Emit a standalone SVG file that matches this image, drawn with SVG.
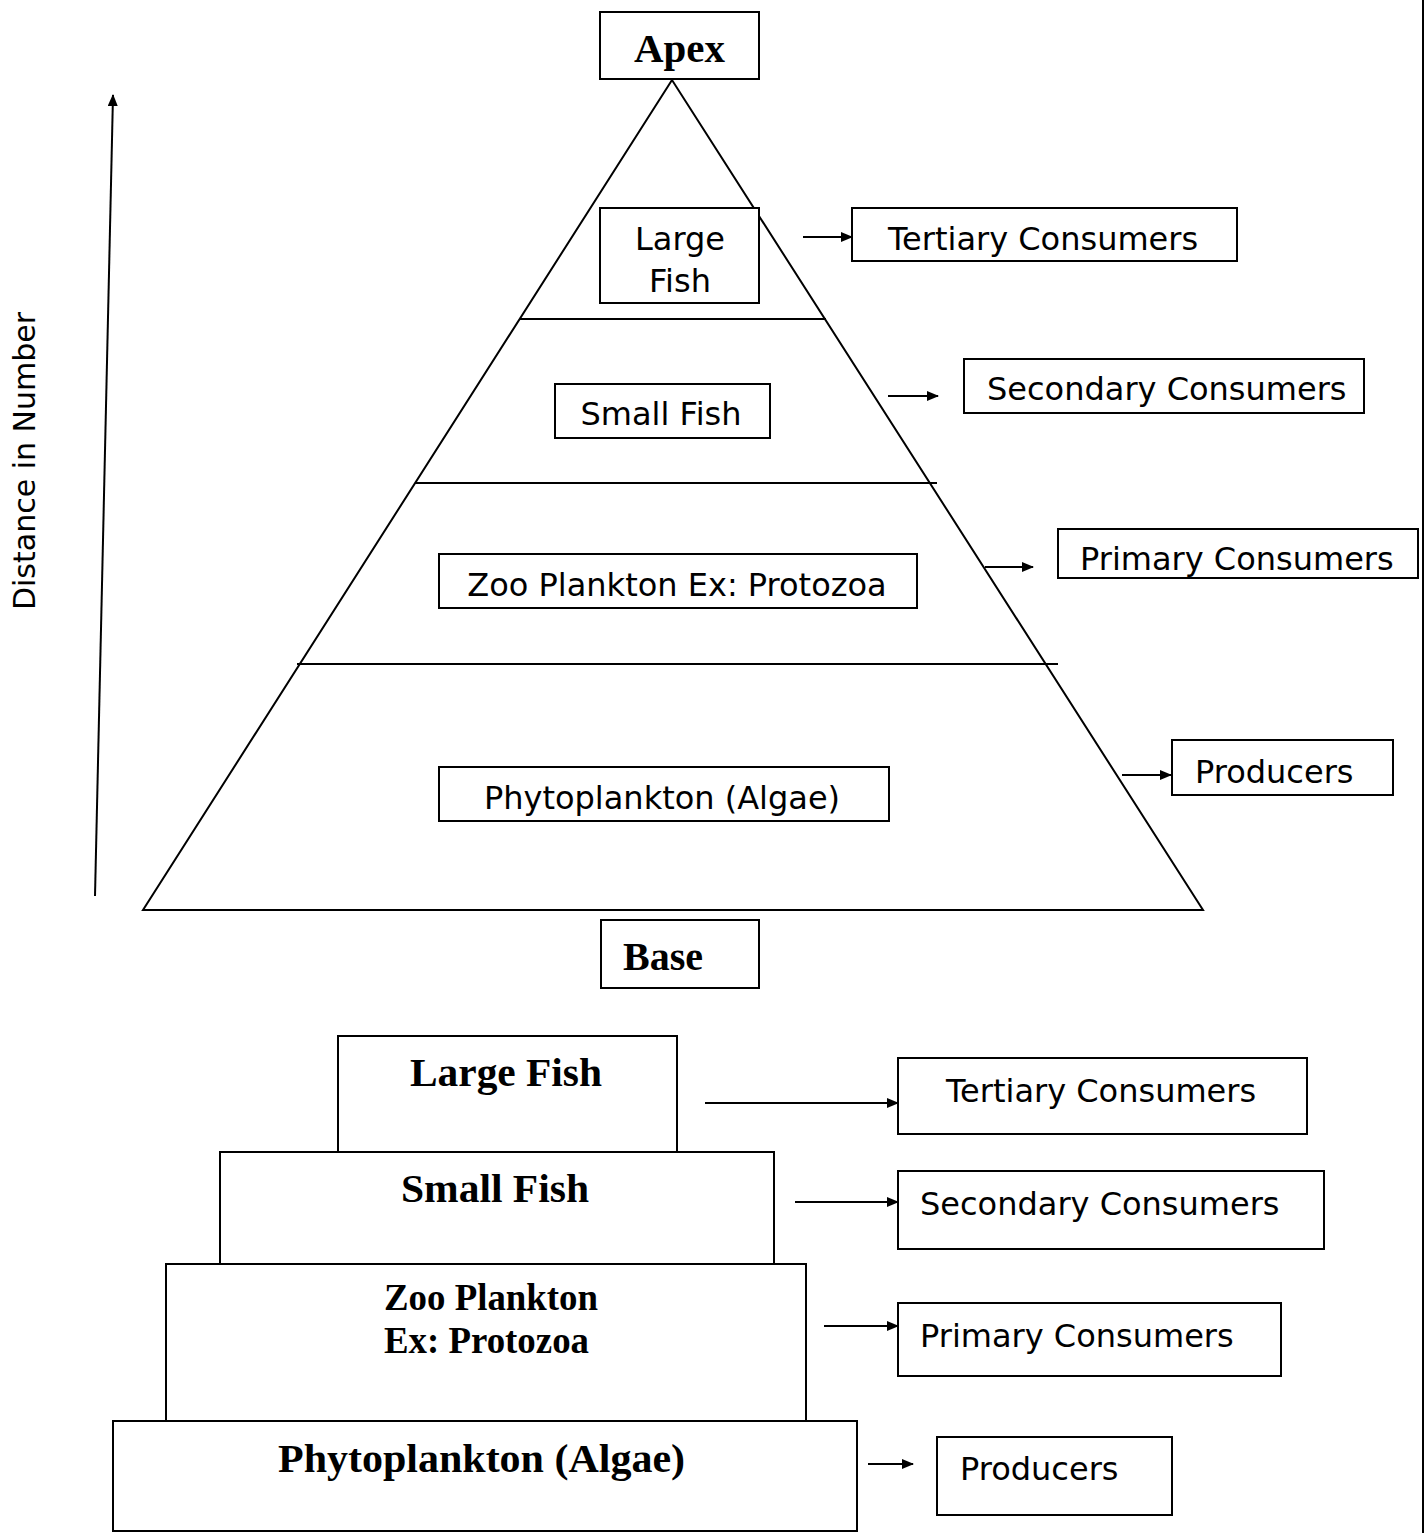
<svg xmlns="http://www.w3.org/2000/svg" width="1426" height="1533" viewBox="0 0 1426 1533">
<defs>
<marker id="ah" markerUnits="userSpaceOnUse" markerWidth="12" markerHeight="10" refX="11" refY="5" orient="auto">
<path d="M0,0 L12,5 L0,10 Z" fill="#000"/>
</marker>
</defs>
<style>
.box{fill:#fff;stroke:#000;stroke-width:2}
.ln{fill:none;stroke:#000;stroke-width:2}
.ar{fill:none;stroke:#000;stroke-width:2;marker-end:url(#ah)}
.s{font-family:"DejaVu Sans","Verdana",sans-serif;font-size:32px;fill:#000}
.b{font-family:"Liberation Serif","Times New Roman",serif;font-weight:bold;font-size:40px;fill:#000}
</style>
<rect width="1426" height="1533" fill="#fff"/>
<line class="ln" x1="1423" y1="0" x2="1423" y2="1533"/>

<g id="pyramid">
<polygon class="ln" points="672,80 143,910 1203,910"/>
<line class="ln" x1="520" y1="319" x2="826" y2="319"/>
<line class="ln" x1="415" y1="483" x2="937" y2="483"/>
<line class="ln" x1="297" y1="664" x2="1058" y2="664"/>
</g>

<g id="apex"><rect class="box" x="600" y="12" width="159" height="67"/><text class="b" x="634" y="62" textLength="91" lengthAdjust="spacingAndGlyphs">Apex</text></g>
<g id="base"><rect class="box" x="601" y="920" width="158" height="68"/><text class="b" x="623" y="970" textLength="80" lengthAdjust="spacingAndGlyphs">Base</text></g>

<g id="axis-label"><text class="s" transform="translate(35,461) rotate(-90)" text-anchor="middle" style="font-size:30px">Distance in Number</text></g>

<g id="t-large"><rect class="box" x="600" y="208" width="159" height="95"/><text class="s" x="680" y="250" text-anchor="middle">Large</text><text class="s" x="680" y="292" text-anchor="middle">Fish</text></g>
<g id="t-small"><rect class="box" x="555" y="384" width="215" height="54"/><text class="s" x="661" y="425" text-anchor="middle">Small Fish</text></g>
<g id="t-zoo"><rect class="box" x="439" y="554" width="478" height="54"/><text class="s" x="677" y="596" text-anchor="middle">Zoo Plankton Ex: Protozoa</text></g>
<g id="t-phyto"><rect class="box" x="439" y="767" width="450" height="54"/><text class="s" x="662" y="809" text-anchor="middle">Phytoplankton (Algae)</text></g>

<g id="t-tertiary"><rect class="box" x="852" y="208" width="385" height="53"/><text class="s" x="888" y="250">Tertiary Consumers</text></g>
<g id="t-secondary"><rect class="box" x="964" y="359" width="400" height="54"/><text class="s" x="987" y="400">Secondary Consumers</text></g>
<g id="t-primary"><rect class="box" x="1058" y="529" width="360" height="49"/><text class="s" x="1080" y="570">Primary Consumers</text></g>
<g id="t-producers"><rect class="box" x="1172" y="740" width="221" height="55"/><text class="s" x="1195" y="783">Producers</text></g>

<g id="b-large"><rect class="box" x="338" y="1036" width="339" height="116"/><text class="b" x="410" y="1086" textLength="192" lengthAdjust="spacingAndGlyphs">Large Fish</text></g>
<g id="b-small"><rect class="box" x="220" y="1152" width="554" height="112"/><text class="b" x="401" y="1202" textLength="188" lengthAdjust="spacingAndGlyphs">Small Fish</text></g>
<g id="b-zoo"><rect class="box" x="166" y="1264" width="640" height="157"/><text class="b" x="384" y="1310" style="font-size:37px" textLength="214" lengthAdjust="spacingAndGlyphs">Zoo Plankton</text><text class="b" x="384" y="1353" style="font-size:37px" textLength="205" lengthAdjust="spacingAndGlyphs">Ex: Protozoa</text></g>
<g id="b-phyto"><rect class="box" x="113" y="1421" width="744" height="110"/><text class="b" x="278" y="1472" textLength="407" lengthAdjust="spacingAndGlyphs">Phytoplankton  (Algae)</text></g>

<g id="b-tertiary"><rect class="box" x="898" y="1058" width="409" height="76"/><text class="s" x="946" y="1102">Tertiary Consumers</text></g>
<g id="b-secondary"><rect class="box" x="898" y="1171" width="426" height="78"/><text class="s" x="920" y="1215">Secondary Consumers</text></g>
<g id="b-primary"><rect class="box" x="898" y="1303" width="383" height="73"/><text class="s" x="920" y="1347">Primary Consumers</text></g>
<g id="b-producers"><rect class="box" x="937" y="1437" width="235" height="78"/><text class="s" x="960" y="1480">Producers</text></g>

<g id="connectors">
<line class="ar" x1="95" y1="896" x2="113" y2="95"/>
<line class="ar" x1="803" y1="237" x2="852" y2="237"/>
<line class="ar" x1="888" y1="396" x2="938" y2="396"/>
<line class="ar" x1="985" y1="567" x2="1033" y2="567"/>
<line class="ar" x1="1122" y1="775" x2="1171" y2="775"/>
<line class="ar" x1="705" y1="1103" x2="898" y2="1103"/>
<line class="ar" x1="795" y1="1202" x2="898" y2="1202"/>
<line class="ar" x1="824" y1="1326" x2="898" y2="1326"/>
<line class="ar" x1="868" y1="1464" x2="913" y2="1464"/>
</g>
</svg>
